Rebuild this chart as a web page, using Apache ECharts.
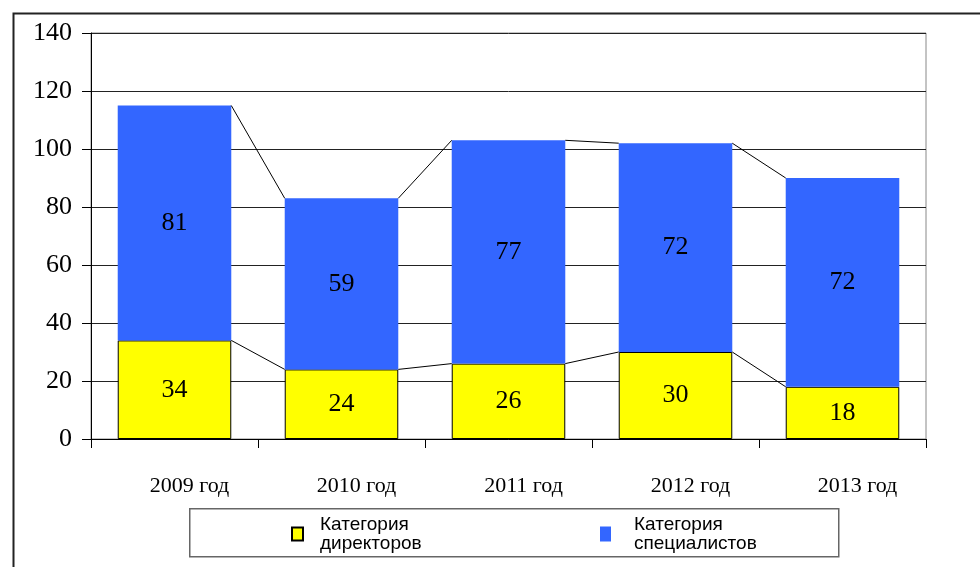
<!DOCTYPE html>
<html>
<head>
<meta charset="utf-8">
<script src="https://cdn.jsdelivr.net/npm/echarts@6/dist/echarts.min.js"></script>
<style>
  html, body { margin: 0; padding: 0; background: #fff; }
  #chart { width: 980px; height: 567px; }
</style>
</head>
<body>
<div id="chart"></div>
<script>
const years = ['2009 год', '2010 год', '2011 год', '2012 год', '2013 год'];
const directors = [34, 24, 26, 30, 18];
const specialists = [81, 59, 77, 72, 72];
const yTicks = { min: 0, max: 140, interval: 20 };

const nameDir = 'Категория\nдиректоров';
const nameSpec = 'Категория\nспециалистов';
const barRatio = 0.68;

// series lines between neighbouring bars (tops of each stacked segment)
const totals = directors.map((d, i) => d + specialists[i]);
const links = [];
for (let i = 0; i < years.length - 1; i++) {
  links.push([i, directors[i], directors[i + 1]]);
  links.push([i, totals[i], totals[i + 1]]);
}

const chart = echarts.init(document.getElementById('chart'));
const serif = 'Liberation Serif';

chart.setOption({
  animation: false,
  backgroundColor: '#fff',
  grid: {
    left: 91, top: 33, right: 54, bottom: 128,
    show: true, borderColor: '#888', borderWidth: 1
  },
  graphic: [
    {
      type: 'rect', left: 11, top: 11, z: -1,
      shape: { width: 1000, height: 1000 },
      style: { fill: 'none', stroke: '#222', lineWidth: 2 }
    },
    {
      type: 'rect', left: 189, top: 508, z: -1,
      shape: { width: 649, height: 48 },
      style: { fill: '#fff', stroke: '#666', lineWidth: 1.5 }
    }
  ],
  legend: [
    {
      data: [nameDir], left: 291, top: 515, padding: 0,
      icon: 'rect', itemWidth: 11, itemHeight: 13,
      textStyle: { fontFamily: 'Liberation Sans', fontSize: 19, lineHeight: 19, color: '#000', padding: [0, 0, 0, 12] }
    },
    {
      data: [nameSpec], left: 600, top: 515, padding: 0,
      icon: 'rect', itemWidth: 11, itemHeight: 15,
      textStyle: { fontFamily: 'Liberation Sans', fontSize: 19, lineHeight: 19, color: '#000', padding: [0, 0, 0, 18] }
    }
  ],
  xAxis: {
    type: 'category',
    data: years,
    axisLine: { lineStyle: { color: '#000', width: 1 } },
    axisTick: { show: true, length: 9, lineStyle: { color: '#000' } },
    axisLabel: { fontFamily: serif, fontSize: 22, color: '#000', margin: 36, padding: [0, 0, 0, 30] }
  },
  yAxis: {
    type: 'value',
    min: yTicks.min, max: yTicks.max, interval: yTicks.interval,
    axisLine: { show: true, lineStyle: { color: '#000', width: 1 } },
    axisTick: { show: true, length: 9, lineStyle: { color: '#000' } },
    axisLabel: { fontFamily: serif, fontSize: 26, color: '#000', margin: 19 },
    splitLine: { lineStyle: { color: '#222', width: 1 } }
  },
  series: [
    {
      name: nameDir, type: 'bar', stack: 'all', data: directors,
      barWidth: (barRatio * 100) + '%',
      itemStyle: { color: '#ffff00', borderColor: '#000', borderWidth: 1 },
      label: { show: true, position: 'inside', fontFamily: serif, fontSize: 26, color: '#000' }
    },
    {
      name: nameSpec, type: 'bar', stack: 'all', data: specialists,
      barWidth: (barRatio * 100) + '%',
      itemStyle: { color: '#3366ff' },
      label: { show: true, position: 'inside', fontFamily: serif, fontSize: 26, color: '#000' }
    },
    {
      type: 'custom', z: 5, silent: true,
      data: links,
      encode: { x: 0, y: 1 },
      renderItem: function (params, api) {
        const i = api.value(0);
        const p1 = api.coord([i, api.value(1)]);
        const p2 = api.coord([i + 1, api.value(2)]);
        const half = api.size([1, 0])[0] * barRatio / 2;
        return {
          type: 'line',
          shape: { x1: p1[0] + half, y1: p1[1], x2: p2[0] - half, y2: p2[1] },
          style: { stroke: '#000', lineWidth: 1 }
        };
      }
    }
  ]
});
</script>
</body>
</html>
